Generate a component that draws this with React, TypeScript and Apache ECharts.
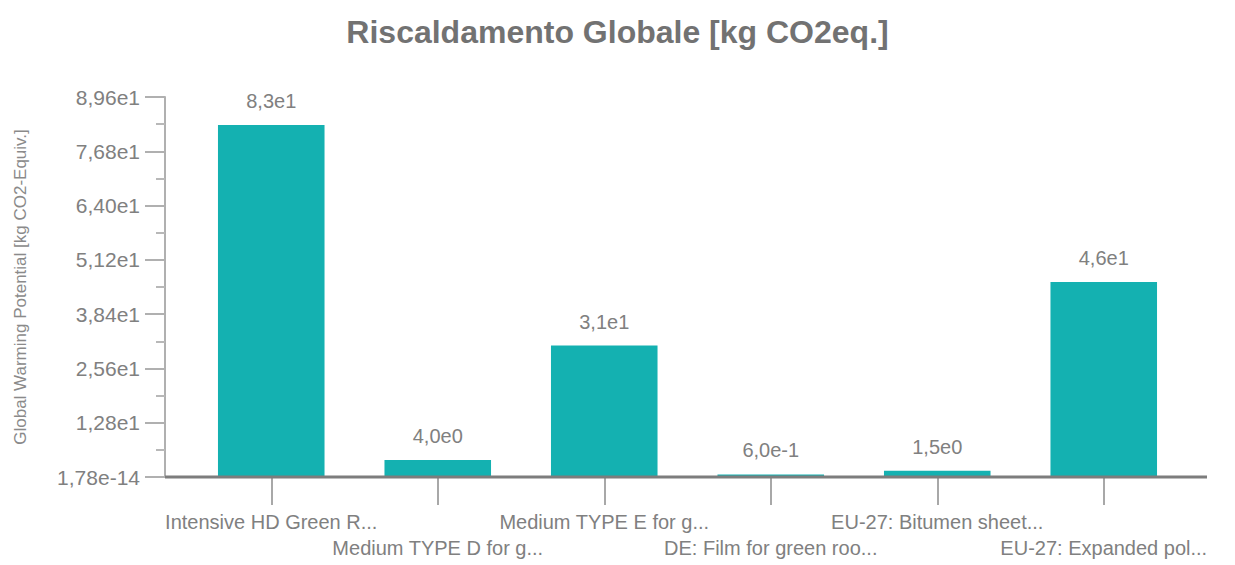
import React, { useEffect, useRef } from "react";
import * as echarts from "echarts";

const categories = [
  "Intensive HD Green R...",
  "Medium TYPE D for g...",
  "Medium TYPE E for g...",
  "DE: Film for green roo...",
  "EU-27: Bitumen sheet...",
  "EU-27: Expanded pol...",
];
const values = [83, 4.0, 31, 0.6, 1.5, 46];
const valueLabels = ["8,3e1", "4,0e0", "3,1e1", "6,0e-1", "1,5e0", "4,6e1"];
const yTickLabels = ["1,78e-14", "1,28e1", "2,56e1", "3,84e1", "5,12e1", "6,40e1", "7,68e1", "8,96e1"];
const yMax = 89.6;
const yInterval = 12.8;

const FONT = "Liberation Sans, Arial, sans-serif";

export default function App() {
  const ref = useRef<HTMLDivElement>(null);
  useEffect(() => {
    if (!ref.current) return;
    const chart = echarts.init(ref.current, undefined, { renderer: "svg" });
    chart.setOption({
      animation: false,
      backgroundColor: "#ffffff",
      title: {
        text: "Riscaldamento Globale [kg CO2eq.]",
        left: "center",
        top: 11,
        textStyle: { fontFamily: FONT, fontSize: 32, fontWeight: "bold", color: "#727272" },
      },
      grid: { left: 188, right: 48, top: 97, bottom: 88, containLabel: false },
      xAxis: {
        type: "category",
        data: categories,
        axisLine: { show: false },
        axisTick: { show: true, alignWithLabel: true, length: 28, lineStyle: { color: "#a8a8a8", width: 2 } },
        axisLabel: {
          interval: 0,
          margin: 32,
          fontFamily: FONT,
          fontSize: 20,
          color: "#808080",
          lineHeight: 26,
          formatter: (v: string, i: number) => (i % 2 === 1 ? "\n" + v : v),
        },
      },
      yAxis: {
        type: "value",
        min: 0,
        max: yMax,
        interval: yInterval,
        offset: 23,
        name: "Global Warming Potential [kg CO2-Equiv.]",
        nameLocation: "middle",
        nameGap: 136,
        nameTextStyle: { fontFamily: FONT, fontSize: 17, color: "#8a8a8a" },
        axisLine: { show: true, lineStyle: { color: "#b0b0b0", width: 2 } },
        axisTick: { show: true, length: 20, lineStyle: { color: "#b0b0b0", width: 2 } },
        minorTick: { show: true, splitNumber: 2, length: 9, lineStyle: { color: "#b8b8b8", width: 2 } },
        splitLine: { show: false },
        axisLabel: {
          margin: 25,
          fontFamily: FONT,
          fontSize: 21,
          color: "#808080",
          formatter: (v: number) => {
            const idx = Math.round(v / yInterval);
            return yTickLabels[idx] ?? "";
          },
        },
      },
      graphic: [
        {
          type: "line",
          shape: { x1: 165, y1: 477, x2: 1207, y2: 477 },
          style: { stroke: "#7d7d7d", lineWidth: 3 },
          z: 10,
        },
      ],
      series: [
        {
          type: "bar",
          data: values,
          barCategoryGap: "36%",
          itemStyle: { color: "#14b1b1" },
          label: {
            show: true,
            position: "top",
            distance: 14,
            fontFamily: FONT,
            fontSize: 20,
            color: "#808080",
            formatter: (p: any) => valueLabels[p.dataIndex],
          },
        },
      ],
    });
    return () => chart.dispose();
  }, []);
  return <div ref={ref} style={{ width: 1235, height: 565, position: "absolute", left: 0, top: 0 }} />;
}
